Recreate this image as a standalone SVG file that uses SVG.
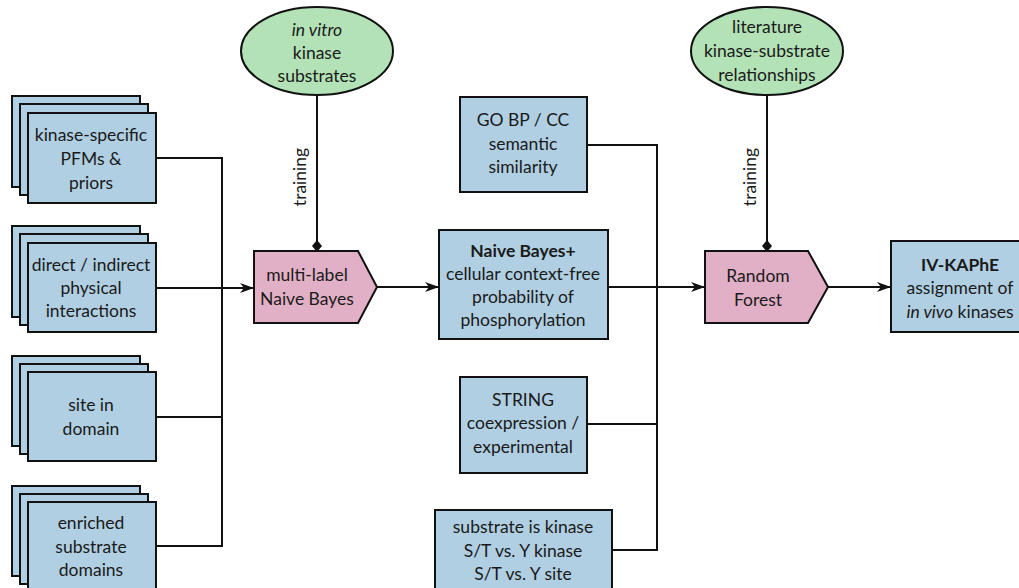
<svg xmlns="http://www.w3.org/2000/svg" width="1019" height="588" viewBox="0 0 1019 588">
<defs>
<style>
text{font-family:"Source Sans Pro","Lato","Liberation Sans",sans-serif;font-size:17.5px;fill:#1a1a1a;text-anchor:middle}
.b{fill:#b0cfe2;stroke:#111;stroke-width:2}
.p{fill:#e2b0c6;stroke:#111;stroke-width:2}
.g{fill:#b2e2b6;stroke:#111;stroke-width:2}
.c{fill:none;stroke:#111;stroke-width:2}
.bold{font-weight:bold}
.it{font-style:italic}
</style>
<marker id="arr" viewBox="0 0 14 10" refX="13" refY="5" markerWidth="14" markerHeight="10" markerUnits="userSpaceOnUse" orient="auto">
<path d="M0,0 L14,5 L0,10 L4,5 Z" fill="#111"/>
</marker>
<marker id="dia" viewBox="0 0 12 12" refX="11" refY="6" markerWidth="12" markerHeight="12" markerUnits="userSpaceOnUse" orient="auto">
<path d="M0,6 L6,1 L12,6 L6,11 Z" fill="#111"/>
</marker>
</defs>
<rect width="1019" height="588" fill="#fff"/>
<g id="connectors">
<path class="c" d="M156,158 H222 V546 H156"/>
<path class="c" d="M156,417 H222"/>
<path class="c" d="M156,288 H253" marker-end="url(#arr)"/>
<path class="c" d="M377,287 H438" marker-end="url(#arr)"/>
<path class="c" d="M317,95 V251" marker-end="url(#dia)"/>
<path class="c" d="M587,145 H657 V550 H612"/>
<path class="c" d="M587,424 H657"/>
<path class="c" d="M608,287 H704" marker-end="url(#arr)"/>
<path class="c" d="M767,95 V251" marker-end="url(#dia)"/>
<path class="c" d="M828,287 H890" marker-end="url(#arr)"/>
<text x="307" y="177" transform="rotate(-90 307 177)" dy="-1">training</text>
<text x="757" y="177" transform="rotate(-90 757 177)" dy="-1">training</text>
</g>
<g id="n-pfm">
<rect class="b" x="12" y="96" width="128" height="91"/>
<rect class="b" x="20" y="104" width="128" height="91"/>
<rect class="b" x="28" y="113" width="128" height="90"/>
<text x="91" y="141">kinase-specific</text>
<text x="91" y="165">PFMs &amp;</text>
<text x="91" y="189">priors</text>
</g>
<g id="n-ppi">
<rect class="b" x="12" y="226" width="128" height="91"/>
<rect class="b" x="20" y="234" width="128" height="91"/>
<rect class="b" x="28" y="243" width="128" height="89"/>
<text x="91" y="271">direct / indirect</text>
<text x="91" y="294">physical</text>
<text x="91" y="317">interactions</text>
</g>
<g id="n-site">
<rect class="b" x="12" y="356" width="128" height="90"/>
<rect class="b" x="20" y="364" width="128" height="90"/>
<rect class="b" x="28" y="372" width="128" height="89"/>
<text x="91" y="411">site in</text>
<text x="91" y="435">domain</text>
</g>
<g id="n-enriched">
<rect class="b" x="12" y="486" width="128" height="90"/>
<rect class="b" x="20" y="494" width="128" height="90"/>
<rect class="b" x="28" y="502" width="128" height="92"/>
<text x="91" y="529">enriched</text>
<text x="91" y="553">substrate</text>
<text x="91" y="576">domains</text>
</g>
<g id="n-invitro">
<ellipse class="g" cx="317" cy="51" rx="76" ry="44"/>
<text x="317" y="36" class="it">in vitro</text>
<text x="317" y="59">kinase</text>
<text x="317" y="82">substrates</text>
</g>
<g id="n-mlnb">
<path class="p" d="M254,251 H358 L377,287 L358,323 H254 Z"/>
<text x="307" y="281">multi-label</text>
<text x="307" y="305">Naive Bayes</text>
</g>
<g id="n-go">
<rect class="b" x="460" y="97" width="127" height="95"/>
<text x="523" y="126">GO BP / CC</text>
<text x="523" y="150">semantic</text>
<text x="523" y="173">similarity</text>
</g>
<g id="n-nbplus">
<rect class="b" x="439" y="230" width="169" height="109"/>
<text x="523" y="257" class="bold">Naive Bayes+</text>
<text x="523" y="280">cellular context-free</text>
<text x="523" y="303">probability of</text>
<text x="523" y="326">phosphorylation</text>
</g>
<g id="n-string">
<rect class="b" x="460" y="377" width="127" height="96"/>
<text x="523" y="406">STRING</text>
<text x="523" y="429">coexpression /</text>
<text x="523" y="453">experimental</text>
</g>
<g id="n-kinase">
<rect class="b" x="435" y="510" width="177" height="90"/>
<text x="523" y="533">substrate is kinase</text>
<text x="523" y="557">S/T vs. Y kinase</text>
<text x="523" y="580">S/T vs. Y site</text>
</g>
<g id="n-lit">
<ellipse class="g" cx="767" cy="51" rx="76" ry="44"/>
<text x="767" y="33">literature</text>
<text x="767" y="57">kinase-substrate</text>
<text x="767" y="81">relationships</text>
</g>
<g id="n-rf">
<path class="p" d="M705,251 H808 L828,287 L808,323 H705 Z"/>
<text x="758" y="282">Random</text>
<text x="758" y="306">Forest</text>
</g>
<g id="n-ivkaphe">
<rect class="b" x="891" y="241" width="134" height="91"/>
<text x="960" y="271" class="bold">IV-KAPhE</text>
<text x="960" y="294">assignment of</text>
<text x="960" y="318"><tspan class="it">in vivo</tspan> kinases</text>
</g>
</svg>
